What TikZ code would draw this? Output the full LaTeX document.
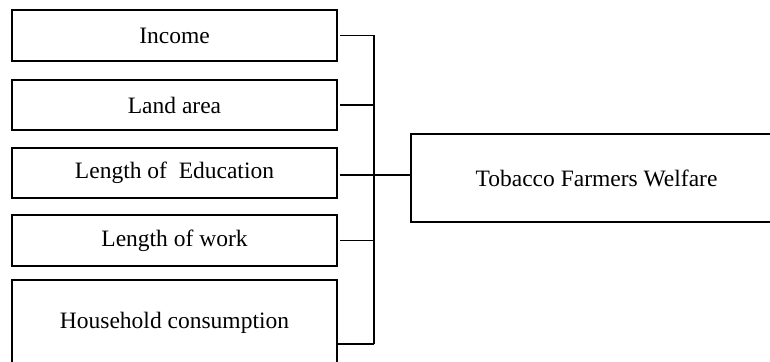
\documentclass[tikz,border=0pt]{standalone}
\usepackage{fontspec}
\setmainfont{Liberation Serif}
\begin{document}
\begin{tikzpicture}[x=1pt,y=1pt,
  factor/.style={draw, line width=1.5pt, rectangle, minimum width=325pt, inner sep=0pt, font=\fontsize{23.5}{28}\selectfont},
  conn/.style={line width=1.6pt}]
\useasboundingbox (0,0) rectangle (770,-361);
\node[factor, minimum height=51pt] (inc) at (174.5,-35.5) {Income};
\node[factor, minimum height=50pt] (land) at (174.5,-105) {Land area};
\node[factor, minimum height=50pt] (edu) at (174.5,-173) {Length of\ \ Education};
\node[factor, minimum height=51pt] (work) at (174.5,-240.5) {Length of work};
\node[factor, minimum height=86pt] (hh) at (174.5,-323) {Household consumption};
\node[factor, minimum width=371pt, minimum height=88pt] (wel) at (596.5,-178) {Tobacco Farmers Welfare};
\coordinate (bus) at (374,0);
\coordinate (hhc) at ([yshift=-21pt]hh.east);
\coordinate (mid) at ([yshift=3pt]wel.west);
\draw[conn] ([xshift=2pt]inc.east) -- (inc.east -| bus);
\draw[conn] ([xshift=2pt]land.east) -- (land.east -| bus);
\draw[conn] ([xshift=2pt]edu.east |- mid) -- (mid -| bus);
\draw[conn] ([xshift=2pt]work.east) -- (work.east -| bus);
\draw[conn] (hhc) -- (hhc -| bus);
\draw[conn] (inc.east -| bus) -- (hhc -| bus);
\draw[conn] (mid -| bus) -- (mid);
\end{tikzpicture}
\end{document}
